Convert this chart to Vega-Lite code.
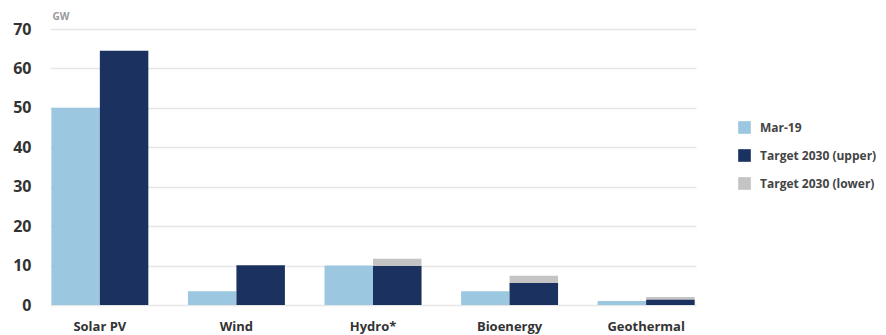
{
  "$schema": "https://vega.github.io/schema/vega-lite/v6.json",
  "width": 646,
  "height": 276,
  "autosize": {"type": "none"},
  "padding": {"left": 50, "top": 29, "right": 190, "bottom": 30},
  "background": "white",
  "config": {
    "view": {"stroke": null},
    "font": "Open Sans"
  },
  "data": {
    "values": [
      {"category": "Solar PV", "series": "Mar-19", "slot": "a", "value": 50},
      {"category": "Wind", "series": "Mar-19", "slot": "a", "value": 3.5},
      {"category": "Hydro*", "series": "Mar-19", "slot": "a", "value": 10},
      {"category": "Bioenergy", "series": "Mar-19", "slot": "a", "value": 3.5},
      {"category": "Geothermal", "series": "Mar-19", "slot": "a", "value": 1.0},
      {"category": "Hydro*", "series": "Target 2030 (lower)", "slot": "b", "value": 11.7},
      {"category": "Bioenergy", "series": "Target 2030 (lower)", "slot": "b", "value": 7.4},
      {"category": "Geothermal", "series": "Target 2030 (lower)", "slot": "b", "value": 2.0},
      {"category": "Solar PV", "series": "Target 2030 (upper)", "slot": "b", "value": 64.5},
      {"category": "Wind", "series": "Target 2030 (upper)", "slot": "b", "value": 10.1},
      {"category": "Hydro*", "series": "Target 2030 (upper)", "slot": "b", "value": 9.9},
      {"category": "Bioenergy", "series": "Target 2030 (upper)", "slot": "b", "value": 5.6},
      {"category": "Geothermal", "series": "Target 2030 (upper)", "slot": "b", "value": 1.3}
    ]
  },
  "mark": {"type": "bar"},
  "encoding": {
    "x": {
      "field": "category",
      "type": "nominal",
      "sort": ["Solar PV", "Wind", "Hydro*", "Bioenergy", "Geothermal"],
      "scale": {"paddingInner": 0.29, "paddingOuter": 0.01},
      "axis": {
        "title": null,
        "labelAngle": 0,
        "domain": false,
        "ticks": false,
        "labelPadding": 15,
        "labelFontSize": 13,
        "labelFontWeight": "bold",
        "labelColor": "#333333",
        "labelBaseline": "top"
      }
    },
    "xOffset": {"field": "slot", "type": "nominal", "scale": {"paddingInner": 0, "paddingOuter": 0}},
    "y": {
      "field": "value",
      "type": "quantitative",
      "stack": null,
      "scale": {"domain": [0, 70], "nice": false},
      "axis": {
        "values": [0, 10, 20, 30, 40, 50, 60, 70],
        "domain": false,
        "ticks": false,
        "labelPadding": 19,
        "labelFontSize": 16,
        "labelFontWeight": "bold",
        "labelColor": "#333333",
        "gridColor": "#e6e6e6",
        "gridWidth": 1.5,
        "title": "GW",
        "titleAngle": 0,
        "titleX": 2,
        "titleY": -13,
        "titleAlign": "left",
        "titleBaseline": "middle",
        "titleFontSize": 10,
        "titleFontWeight": "bold",
        "titleColor": "#999999"
      }
    },
    "color": {
      "field": "series",
      "type": "nominal",
      "scale": {
        "domain": ["Mar-19", "Target 2030 (upper)", "Target 2030 (lower)"],
        "range": ["#9bc7e1", "#1b3260", "#c4c4c4"]
      },
      "legend": {
        "title": null,
        "orient": "none",
        "legendX": 688,
        "legendY": 92,
        "symbolType": "square",
        "symbolSize": 160,
        "symbolStrokeWidth": 0,
        "labelFontSize": 12,
        "labelFontWeight": "bold",
        "labelColor": "#444444",
        "rowPadding": 15,
        "labelOffset": 9
      }
    }
  }
}
